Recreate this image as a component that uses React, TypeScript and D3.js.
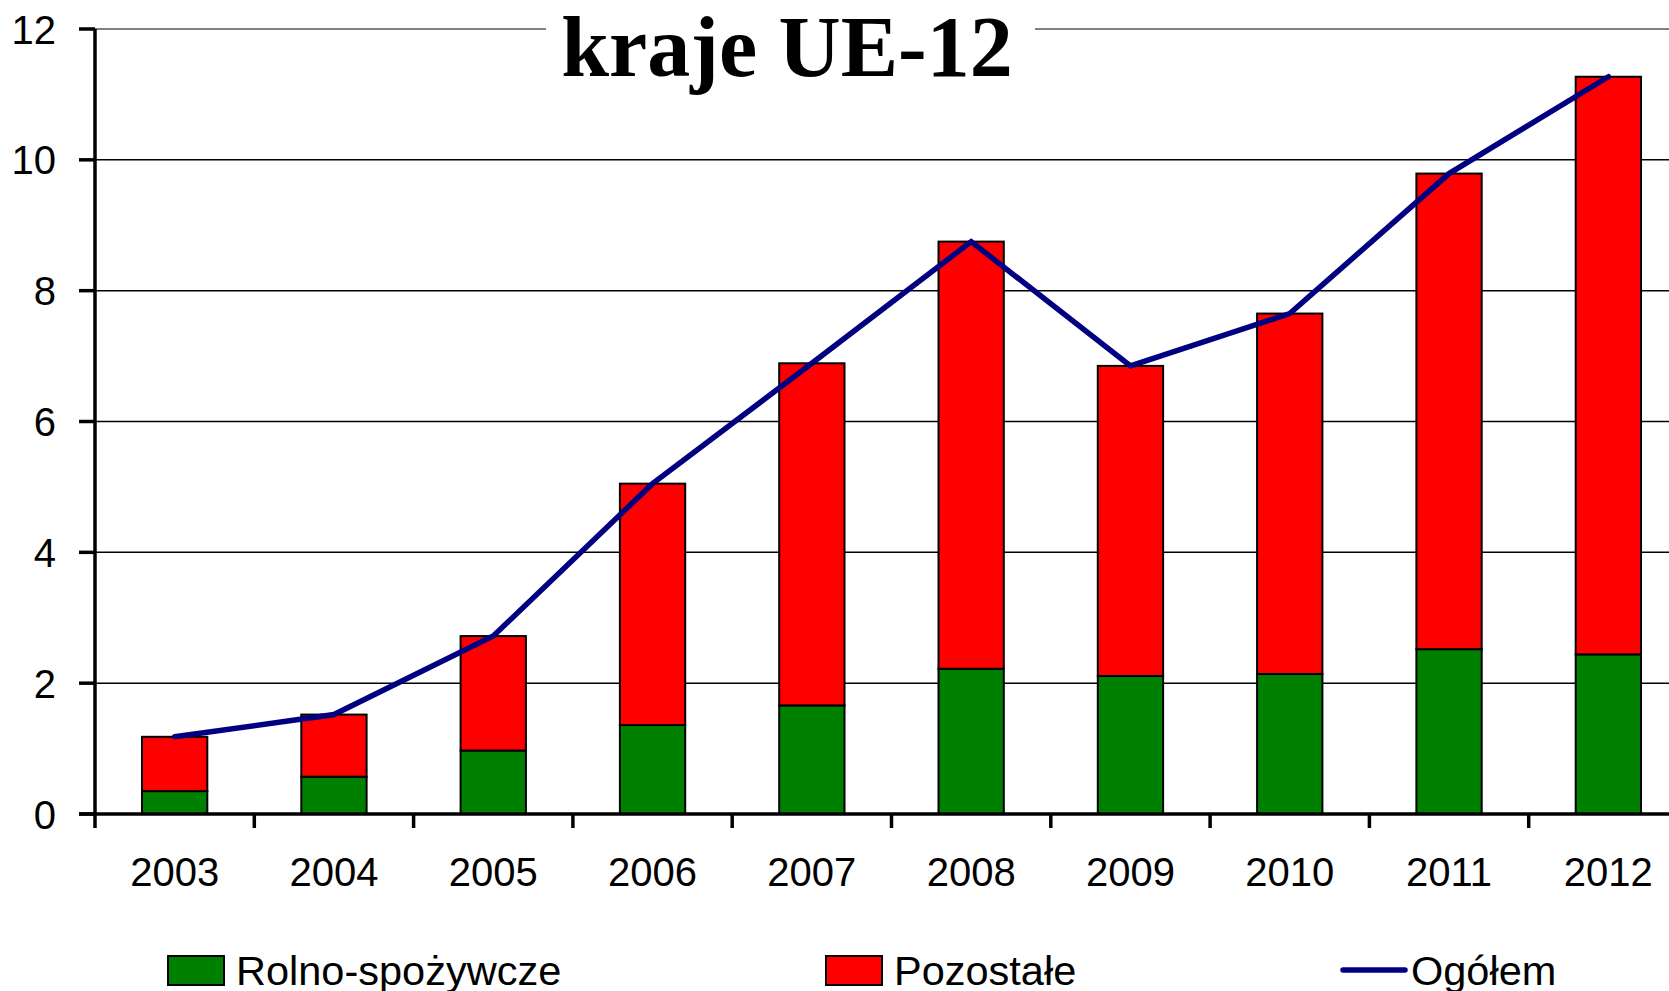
import React, { useRef, useEffect } from "react";
import * as d3 from "d3";

const years = ["2003", "2004", "2005", "2006", "2007", "2008", "2009", "2010", "2011", "2012"];
const rolnoSpozywcze = [0.35, 0.57, 0.97, 1.36, 1.66, 2.22, 2.11, 2.14, 2.52, 2.44];
const pozostale = [0.83, 0.95, 1.75, 3.69, 5.23, 6.53, 4.74, 5.51, 7.27, 8.83];
const ogolem = [1.18, 1.52, 2.72, 5.05, 6.89, 8.75, 6.85, 7.65, 9.79, 11.27];
const yTicks = [0, 2, 4, 6, 8, 10, 12];
const seriesNames = ["Rolno-spożywcze", "Pozostałe", "Ogółem"];
const title = "kraje UE-12";

const WIDTH = 1669;
const HEIGHT = 991;

const Chart: React.FC = () => {
  const ref = useRef<SVGSVGElement | null>(null);

  useEffect(() => {
    const svg = d3.select(ref.current);
    svg.selectAll("*").remove();

    const left = 95;
    const bandW = 159.3;
    const x = d3
      .scaleBand<string>()
      .domain(years)
      .range([left, left + bandW * years.length])
      .paddingInner(0.59)
      .paddingOuter(0.295);
    const y = d3.scaleLinear().domain([0, 12]).range([814, 29]);
    const font = "'Liberation Sans', Arial, sans-serif";

    // gridlines
    svg
      .append("g")
      .selectAll("line")
      .data(yTicks.filter((t) => t > 0))
      .enter()
      .append("line")
      .attr("x1", left)
      .attr("x2", WIDTH)
      .attr("y1", (d) => y(d))
      .attr("y2", (d) => y(d))
      .attr("stroke", (d) => (d === 12 ? "#808080" : "#000"))
      .attr("stroke-width", (d) => (d === 12 ? 2 : 1.5));

    // stacked bars
    const stackData = years.map((yr, i) => ({
      year: yr,
      rolno: rolnoSpozywcze[i],
      poz: pozostale[i],
    }));
    const stack = d3.stack<any>().keys(["rolno", "poz"])(stackData);
    const colors = ["#008000", "#FF0000"];
    stack.forEach((layer, li) => {
      svg
        .append("g")
        .selectAll("rect")
        .data(layer)
        .enter()
        .append("rect")
        .attr("x", (d: any) => x(d.data.year)!)
        .attr("width", x.bandwidth())
        .attr("y", (d) => y(d[1]))
        .attr("height", (d) => y(d[0]) - y(d[1]))
        .attr("fill", colors[li])
        .attr("stroke", "#000")
        .attr("stroke-width", 2);
    });

    // title with white backdrop
    svg
      .append("rect")
      .attr("x", 546)
      .attr("y", 10)
      .attr("width", 489)
      .attr("height", 60)
      .attr("fill", "#fff");
    svg
      .append("text")
      .attr("x", 787)
      .attr("y", 76)
      .attr("text-anchor", "middle")
      .attr("font-family", "'Liberation Serif', 'Times New Roman', serif")
      .attr("font-weight", "bold")
      .attr("font-size", 86)
      .text(title);

    // total line
    const line = d3
      .line<number>()
      .x((d, i) => x(years[i])! + x.bandwidth() / 2)
      .y((d) => y(d));
    svg
      .append("path")
      .datum(ogolem)
      .attr("fill", "none")
      .attr("stroke", "#000080")
      .attr("stroke-width", 5.5)
      .attr("stroke-linecap", "round")
      .attr("d", line);

    // axes
    svg
      .append("line")
      .attr("x1", left)
      .attr("x2", left)
      .attr("y1", y(12))
      .attr("y2", 828)
      .attr("stroke", "#000")
      .attr("stroke-width", 3.5);
    svg
      .append("line")
      .attr("x1", 79)
      .attr("x2", WIDTH)
      .attr("y1", y(0))
      .attr("y2", y(0))
      .attr("stroke", "#000")
      .attr("stroke-width", 3.5);
    svg
      .append("g")
      .selectAll("line")
      .data(yTicks)
      .enter()
      .append("line")
      .attr("x1", 79)
      .attr("x2", left)
      .attr("y1", (d) => y(d))
      .attr("y2", (d) => y(d))
      .attr("stroke", "#000")
      .attr("stroke-width", 3.5);
    svg
      .append("g")
      .selectAll("line")
      .data(years.slice(1))
      .enter()
      .append("line")
      .attr("x1", (d) => x(d)! - (x.step() * x.paddingInner()) / 2)
      .attr("x2", (d) => x(d)! - (x.step() * x.paddingInner()) / 2)
      .attr("y1", y(0))
      .attr("y2", 828)
      .attr("stroke", "#000")
      .attr("stroke-width", 3.5);

    // tick labels
    svg
      .append("g")
      .selectAll("text")
      .data(yTicks)
      .enter()
      .append("text")
      .attr("x", 56)
      .attr("y", (d) => y(d) + 14.5)
      .attr("text-anchor", "end")
      .attr("font-family", font)
      .attr("font-size", 40)
      .text((d) => d);
    svg
      .append("g")
      .selectAll("text")
      .data(years)
      .enter()
      .append("text")
      .attr("x", (d) => x(d)! + x.bandwidth() / 2)
      .attr("y", 886)
      .attr("text-anchor", "middle")
      .attr("font-family", font)
      .attr("font-size", 40)
      .text((d) => d);

    // legend
    const legendX = [168, 826, 1343];
    const lg = svg.append("g");
    [0, 1].forEach((i) => {
      lg.append("rect")
        .attr("x", legendX[i])
        .attr("y", 956)
        .attr("width", 56)
        .attr("height", 29)
        .attr("fill", colors[i])
        .attr("stroke", "#000")
        .attr("stroke-width", 2);
    });
    lg.append("line")
      .attr("x1", legendX[2])
      .attr("x2", legendX[2] + 62)
      .attr("y1", 970)
      .attr("y2", 970)
      .attr("stroke", "#000080")
      .attr("stroke-width", 5.5)
      .attr("stroke-linecap", "round");
    const textX = [236, 894, 1411];
    seriesNames.forEach((name, i) => {
      lg.append("text")
        .attr("x", textX[i])
        .attr("y", 985)
        .attr("font-family", font)
        .attr("font-size", 41.5)
        .text(name);
    });
  }, []);

  return (
    <svg
      ref={ref}
      width={WIDTH}
      height={HEIGHT}
      style={{ position: "absolute", left: 0, top: 0, background: "#fff" }}
    />
  );
};

export default function App() {
  return <Chart />;
}
